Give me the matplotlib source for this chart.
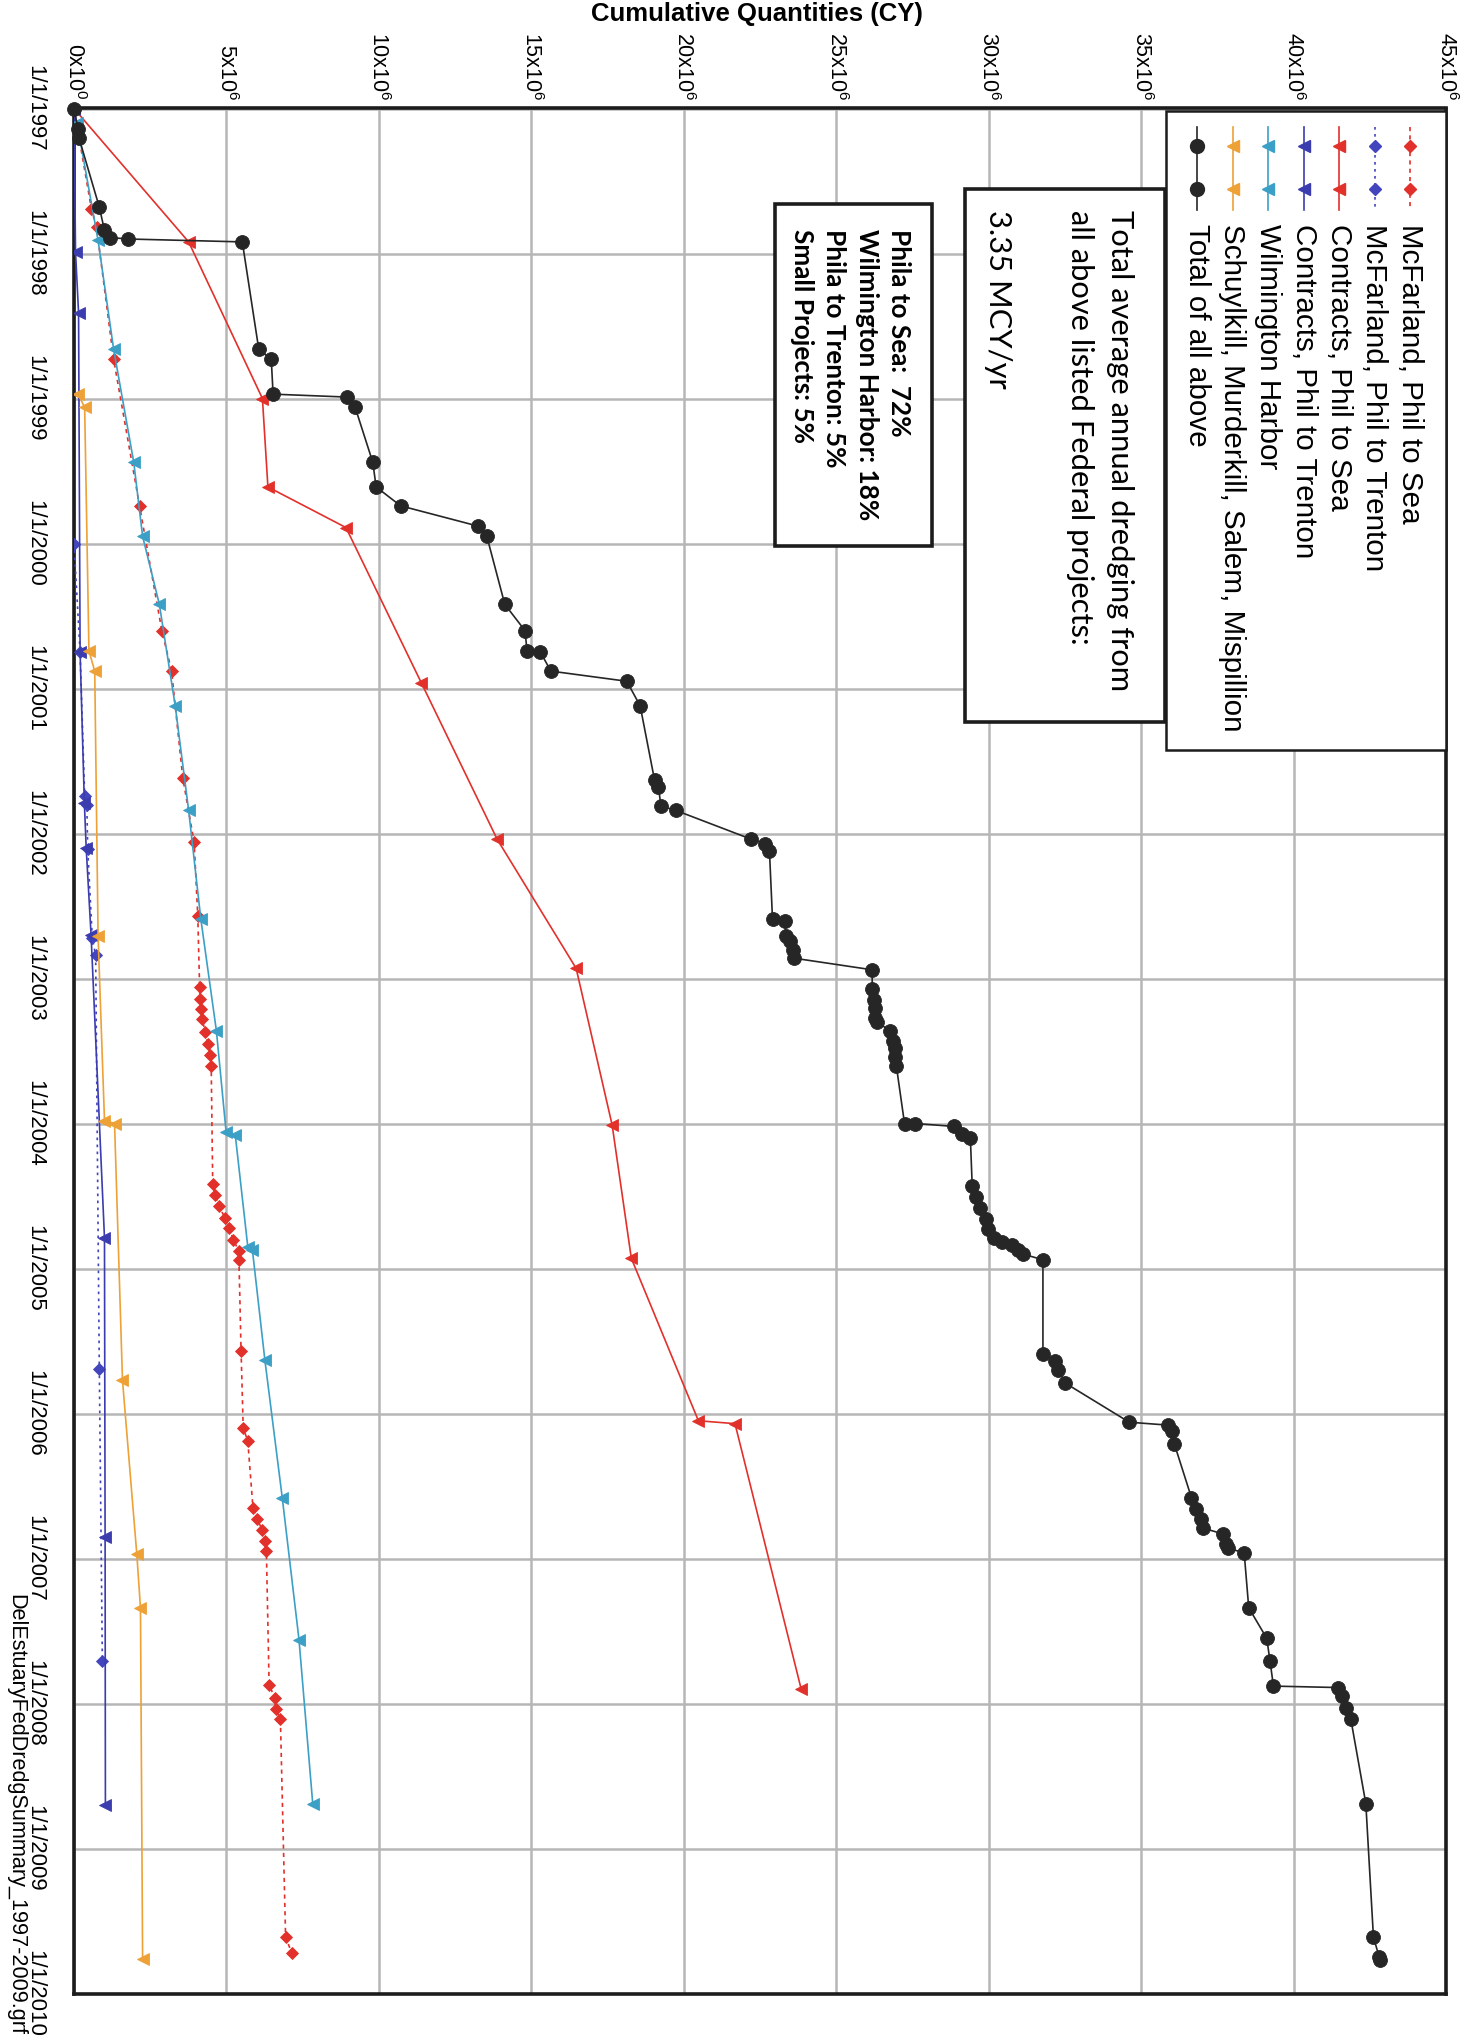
import numpy as np
import matplotlib.pyplot as plt
from matplotlib.lines import Line2D
from matplotlib.patches import Rectangle

plt.rcParams['font.family'] = ['Liberation Sans', 'DejaVu Sans']
plt.rcParams['mathtext.fontset'] = 'custom'
plt.rcParams['mathtext.rm'] = 'Liberation Sans'
plt.rcParams['mathtext.it'] = 'Liberation Sans:italic'

W, H = 1470, 2044

# dates as decimal years, quantities in millions of cubic yards (cumulative)
mcf_sea_year = [1997.00, 1997.69, 1997.82, 1998.73, 1999.74, 2000.60, 2000.88, 2001.62, 2002.06, 2002.57,
                2003.06, 2003.14, 2003.21, 2003.28, 2003.37, 2003.45, 2003.53, 2003.60, 2004.42, 2004.49,
                2004.57, 2004.65, 2004.72, 2004.80, 2004.88, 2004.94, 2005.57, 2006.10, 2006.19, 2006.65,
                2006.73, 2006.80, 2006.88, 2006.95, 2007.87, 2007.96, 2008.04, 2008.11, 2009.61, 2009.72]
mcf_sea_mcy = [0.00, 0.57, 0.74, 1.30, 2.15, 2.88, 3.20, 3.57, 3.94, 4.06,
               4.12, 4.13, 4.16, 4.20, 4.31, 4.40, 4.45, 4.50, 4.55, 4.64,
               4.74, 4.96, 5.08, 5.23, 5.40, 5.41, 5.48, 5.55, 5.70, 5.87,
               6.01, 6.17, 6.26, 6.31, 6.40, 6.58, 6.61, 6.77, 6.94, 7.14]

mcf_trn_year = [2000.00, 2000.75, 2001.74, 2001.80, 2002.11, 2002.72, 2002.84, 2005.69, 2007.71]
mcf_trn_mcy = [0.00, 0.20, 0.35, 0.42, 0.45, 0.60, 0.71, 0.83, 0.93]

con_sea_year = [1997.00, 1997.92, 1999.00, 1999.61, 1999.89, 2000.96, 2002.04, 2002.93, 2004.01,
                2004.93, 2006.05, 2006.07, 2007.90]
con_sea_mcy = [0.00, 3.76, 6.18, 6.36, 8.92, 11.39, 13.88, 16.47, 17.65, 18.28, 20.48, 21.68, 23.85]

con_trn_year = [1997.00, 1997.99, 1998.41, 2000.75, 2001.79, 2002.10, 2002.70, 2004.79, 2006.85, 2008.70]
con_trn_mcy = [0.00, 0.05, 0.15, 0.20, 0.34, 0.40, 0.56, 1.00, 1.02, 1.03]

wilm_year = [1997.10, 1997.91, 1998.66, 1999.44, 1999.95, 2000.42, 2001.12, 2001.84, 2002.59, 2003.36,
             2004.06, 2004.08, 2004.85, 2004.87, 2005.63, 2006.58, 2007.56, 2008.69]
wilm_mcy = [0.10, 0.79, 1.30, 1.96, 2.25, 2.80, 3.32, 3.76, 4.16, 4.67,
            4.99, 5.29, 5.70, 5.85, 6.26, 6.83, 7.38, 7.83]

small_year = [1998.97, 1999.06, 2000.74, 2000.88, 2002.71, 2003.98, 2004.00, 2005.77, 2006.97, 2007.34, 2009.76]
small_mcy = [0.13, 0.35, 0.49, 0.68, 0.79, 1.00, 1.33, 1.59, 2.06, 2.18, 2.25]

total_year = [1997.00, 1997.14, 1997.20, 1997.68, 1997.84, 1997.89, 1997.90, 1997.92, 1998.66, 1998.73,
              1998.97, 1998.99, 1999.06, 1999.44, 1999.61, 1999.74, 1999.88, 1999.95, 2000.42, 2000.60,
              2000.74, 2000.75, 2000.88, 2000.95, 2001.12, 2001.63, 2001.68, 2001.81, 2001.84, 2002.04,
              2002.07, 2002.12, 2002.59, 2002.60, 2002.71, 2002.74, 2002.80, 2002.86, 2002.94, 2003.07,
              2003.15, 2003.20, 2003.27, 2003.30, 2003.36, 2003.43, 2003.48, 2003.54, 2003.60, 2004.00,
              2004.00, 2004.02, 2004.07, 2004.10, 2004.43, 2004.51, 2004.58, 2004.66, 2004.73, 2004.79,
              2004.82, 2004.84, 2004.87, 2004.90, 2004.94, 2005.59, 2005.64, 2005.70, 2005.79, 2006.06,
              2006.08, 2006.12, 2006.21, 2006.58, 2006.66, 2006.73, 2006.79, 2006.83, 2006.90, 2006.93,
              2006.96, 2007.34, 2007.55, 2007.71, 2007.88, 2007.89, 2007.95, 2008.03, 2008.11, 2008.69,
              2009.61, 2009.75, 2009.77]
total_mcy = [0.00, 0.13, 0.16, 0.83, 1.00, 1.18, 1.78, 5.52, 6.06, 6.47,
             6.53, 8.94, 9.22, 9.80, 9.91, 10.71, 13.25, 13.54, 14.13, 14.79,
             14.86, 15.30, 15.64, 18.13, 18.57, 19.04, 19.17, 19.25, 19.73, 22.22,
             22.66, 22.81, 22.91, 23.31, 23.35, 23.50, 23.57, 23.62, 26.18, 26.18,
             26.24, 26.28, 26.28, 26.33, 26.77, 26.87, 26.94, 26.94, 26.97, 27.24,
             27.60, 28.85, 29.14, 29.40, 29.46, 29.58, 29.73, 29.90, 29.99, 30.17,
             30.43, 30.75, 30.97, 31.12, 31.78, 31.78, 32.19, 32.29, 32.51, 34.61,
             35.87, 36.00, 36.09, 36.65, 36.80, 36.95, 37.02, 37.68, 37.79, 37.85,
             38.38, 38.53, 39.12, 39.23, 39.34, 41.47, 41.60, 41.71, 41.88, 42.37,
             42.62, 42.81, 42.85]

labels = ['McFarland, Phil to Sea', 'McFarland, Phil to Trenton', 'Contracts, Phil to Sea',
          'Contracts, Phil to Trenton', 'Wilmington Harbor',
          'Schuylkill, Murderkill, Salem, Mispillion', 'Total of all above']
colors = ['#e2302b', '#4345bd', '#e2302b', '#3b3cae', '#3c9fc6', '#eda136', '#262626']
markers = ['D', 'D', '<', '<', '<', '<', 'o']
msizes = [6, 6, 8, 8, 8, 8, 10]
styles = [(0, (2.5, 2.5)), (0, (1.6, 2.6)), '-', '-', '-', '-', '-']
xs = [mcf_sea_year, mcf_trn_year, con_sea_year, con_trn_year, wilm_year, small_year, total_year]
ys = [mcf_sea_mcy, mcf_trn_mcy, con_sea_mcy, con_trn_mcy, wilm_mcy, small_mcy, total_mcy]

qty_ticks = np.arange(0, 46e6, 5e6)
qty_labels = ['0x10$^{0}$'] + ['%dx10$^{6}$' % v for v in range(5, 50, 5)]
year_ticks = list(range(1997, 2011))
date_labels = ['1/1/%d' % y for y in year_ticks]

fig = plt.figure(figsize=(W / 100, H / 100), dpi=100)
ax = fig.add_axes([74 / W, 1 - 1993.5 / H, (1446 - 74) / W, (1993.5 - 108.5) / H])


def fx(x):
    return x / W


def fy(y):
    return 1 - y / H


# series: quantity runs left to right, time runs top to bottom
for i in range(len(labels)):
    ax.plot(np.array(ys[i]) * 1e6, xs[i], color=colors[i], ls=styles[i], lw=1.2,
            marker=markers[i], ms=msizes[i], mec=colors[i], mew=0.6,
            zorder=4 if i == 6 else 3, clip_on=False if i == 6 else True)

ax.set_xlim(0, 45e6)
ax.set_ylim(2010, 1997)
ax.xaxis.tick_top()
ax.set_xticks(qty_ticks)
ax.set_xticklabels(qty_labels, rotation=-90, fontsize=15.5)
ax.set_yticks(year_ticks)
ax.set_yticklabels(date_labels, rotation=-90, va='center', fontsize=16)
ax.tick_params(axis='x', length=0, pad=6)
ax.tick_params(axis='y', length=0, pad=21)
ax.grid(True, color='#b6b6b6', lw=1.8)
ax.set_axisbelow(True)
for s in ax.spines.values():
    s.set_linewidth(2.6)
    s.set_color('#1c1c1c')

fig.text(fx(757), fy(21), 'Cumulative Quantities (CY)', ha='center', va='baseline',
         fontsize=18.5, fontweight='bold')
fig.text(fx(16), fy(1594), 'DelEstuaryFedDredgSummary_1997-2009.grf', rotation=-90,
         ha='center', va='top', fontsize=15.6)

# legend, drawn rotated like the rest of the page
fig.add_artist(Rectangle((fx(1166), fy(750)), fx(1446) - fx(1166), fy(111) - fy(750),
                         transform=fig.transFigure, fc='white', ec='#1c1c1c', lw=1.8, zorder=5))
for i in range(len(labels)):
    cx = 1410 - 35.5 * i
    fig.add_artist(Line2D([fx(cx), fx(cx)], [fy(127), fy(210)], color=colors[i], ls=styles[i],
                          lw=1.2, zorder=6))
    fig.add_artist(Line2D([fx(cx), fx(cx)], [fy(146), fy(189)], color=colors[i], ls='none',
                          marker=markers[i], ms=msizes[i], mec=colors[i], zorder=6))
    fig.text(fx(cx), fy(224), labels[i], rotation=-90, ha='center', va='top',
             fontsize=21.3, zorder=7)

renderer = fig.canvas.get_renderer()


def fit_length(txts, length_px):
    h = txts[0].get_window_extent(renderer).height
    for t in txts:
        t.set_fontsize(t.get_fontsize() * length_px / h)


# note boxes
fig.add_artist(Rectangle((fx(965), fy(722)), fx(1165) - fx(965), fy(189) - fy(722),
                         transform=fig.transFigure, fc='white', ec='#1c1c1c', lw=2.6, zorder=5))
box1 = ['Total average annual dredging from', 'all above listed Federal projects:', '3.35 MCY/yr']
box1_x = [1120, 1080, 998]
t1 = [fig.text(fx(x), fy(210), s, rotation=-90, ha='center', va='top', family='Lato',
               fontsize=20, zorder=7) for x, s in zip(box1_x, box1)]
fit_length(t1, 482)

fig.add_artist(Rectangle((fx(775), fy(546)), fx(932) - fx(775), fy(204) - fy(546),
                         transform=fig.transFigure, fc='white', ec='#1c1c1c', lw=2.6, zorder=5))
box2 = ['Wilmington Harbor: 18%', 'Phila to Sea:  72%', 'Phila to Trenton: 5%', 'Small Projects: 5%']
box2_x = [867, 899, 834, 802]
t2 = [fig.text(fx(x), fy(229), s, rotation=-90, ha='center', va='top', family='Lato',
               fontweight='bold', fontsize=16, zorder=7) for x, s in zip(box2_x, box2)]
fit_length(t2, 291)

fig.savefig('out.png', dpi=100)
